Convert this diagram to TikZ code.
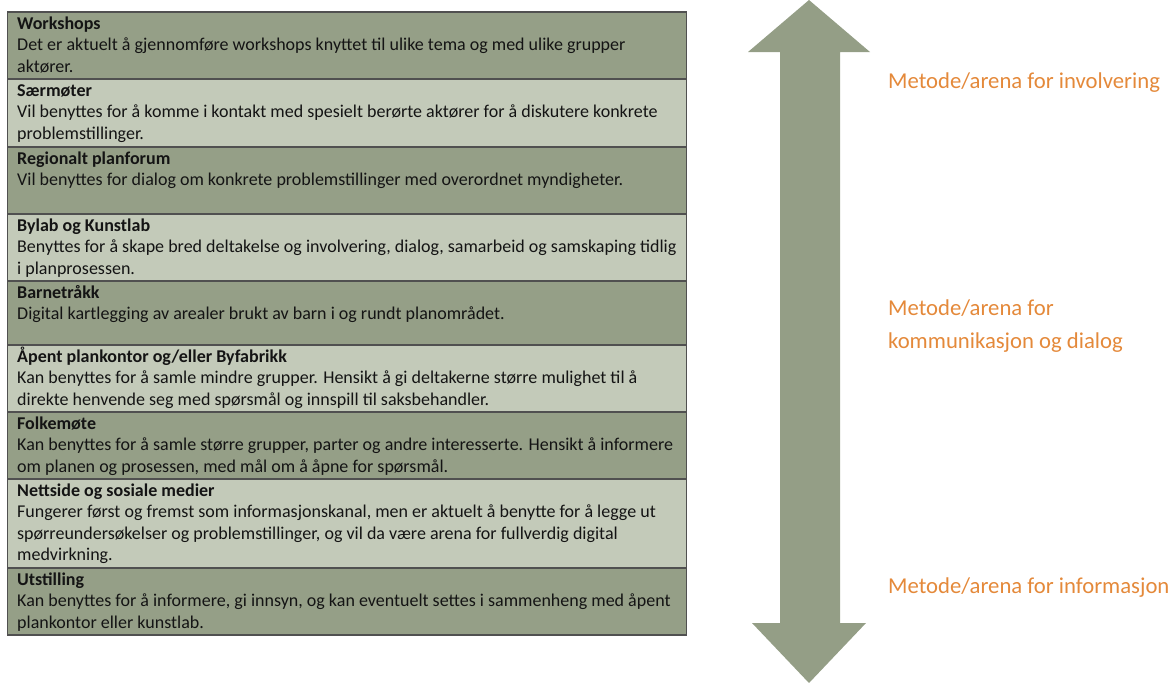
\documentclass[tikz,border=0pt]{standalone}
\usepackage{fontspec}
\setmainfont{Carlito}
\definecolor{rowdark}{RGB}{149,159,135}
\definecolor{rowlight}{RGB}{195,202,185}
\definecolor{arrowgreen}{RGB}{148,158,134}
\definecolor{labelorange}{RGB}{228,137,58}
\definecolor{celltext}{RGB}{20,20,20}
\definecolor{cellrule}{RGB}{80,80,80}
\newcommand{\tablerow}[6]{%
  \fill[#4] (7.5,#2) rectangle (686.5,#3);
  \node[celltextstyle] (#1) at (17,#2+17.5) {\parbox[t]{800pt}{\raggedright\textbf{#5}\\#6}};
}
\tikzset{
  celltextstyle/.style={anchor=base west, inner sep=0pt, text=celltext,
    font=\fontsize{18}{21.3}\selectfont},
  sidelabel/.style={anchor=base west, inner sep=0pt, text=labelorange, align=left,
    font=\fontsize{22.7}{33}\selectfont},
}
\begin{document}
\begin{tikzpicture}[x=1pt,y=-1pt]
\useasboundingbox (0,0) rectangle (1171,683);
\tablerow{t1}{12}{79}{rowdark}{Workshops}{Det er aktuelt å gjennomføre workshops knyttet til ulike tema og med ulike grupper\\aktører.}
\tablerow{t2}{79}{147}{rowlight}{Særmøter}{Vil benyttes for å komme i kontakt med spesielt berørte aktører for å diskutere konkrete\\problemstillinger.}
\tablerow{t3}{147}{214}{rowdark}{Regionalt planforum}{Vil benyttes for dialog om konkrete problemstillinger med overordnet myndigheter.}
\tablerow{t4}{214}{281}{rowlight}{Bylab og Kunstlab}{Benyttes for å skape bred deltakelse og involvering, dialog, samarbeid og samskaping tidlig\\i planprosessen.}
\tablerow{t5}{281}{345}{rowdark}{Barnetråkk}{Digital kartlegging av arealer brukt av barn i og rundt planområdet.}
\tablerow{t6}{345}{412}{rowlight}{Åpent plankontor og/eller Byfabrikk}{Kan benyttes for å samle mindre grupper. Hensikt å gi deltakerne større mulighet til å\\direkte henvende seg med spørsmål og innspill til saksbehandler.}
\tablerow{t7}{412}{479}{rowdark}{Folkemøte}{Kan benyttes for å samle større grupper, parter og andre interesserte. Hensikt å informere\\om planen og prosessen, med mål om å åpne for spørsmål.}
\tablerow{t8}{479}{568}{rowlight}{Nettside og sosiale medier}{Fungerer først og fremst som informasjonskanal, men er aktuelt å benytte for å legge ut\\spørreundersøkelser og problemstillinger, og vil da være arena for fullverdig digital\\medvirkning.}
\tablerow{t9}{568}{635}{rowdark}{Utstilling}{Kan benyttes for å informere, gi innsyn, og kan eventuelt settes i sammenheng med åpent\\plankontor eller kunstlab.}
% rules
\draw[cellrule, line width=1.2pt] (7.5,12) rectangle (686.5,635);
\foreach \y in {79,147,214,281,345,412,479,568}
  \draw[cellrule, line width=1.2pt] (7.5,\y) -- (686.5,\y);
% double arrow
\fill[arrowgreen] (809,0) -- (870,52) -- (840,52) -- (840,623) -- (866,623)
  -- (809,683) -- (752,623) -- (780,623) -- (780,52) -- (748,52) -- cycle;
% labels
\node[sidelabel] (l1) at (888,88) {Metode/arena for involvering};
\node[sidelabel] (l2) at (888,315) {\parbox[t]{300pt}{\raggedright Metode/arena for\\kommunikasjon og dialog}};
\node[sidelabel] (l3) at (888,593) {Metode/arena for informasjon};
\end{tikzpicture}
\end{document}
